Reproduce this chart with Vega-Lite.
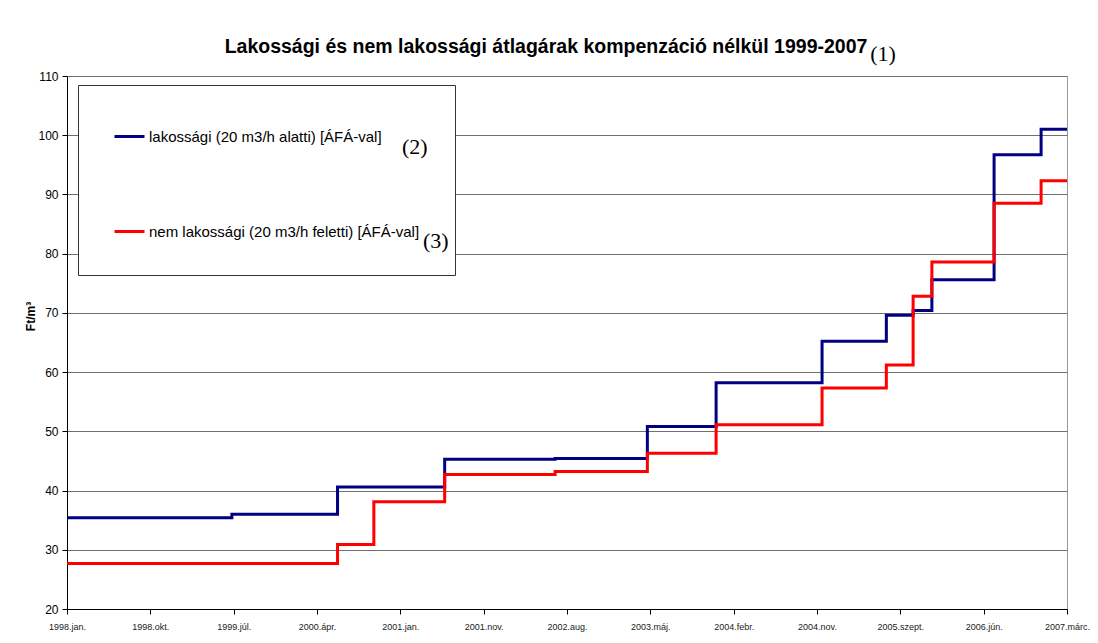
{
  "$schema": "https://vega.github.io/schema/vega-lite/v6.json",
  "width": 1000,
  "height": 533,
  "autosize": {"type": "none"},
  "padding": {"left": 67, "top": 76, "right": 31, "bottom": 34},
  "background": "white",
  "title": {
    "text": "Lakossági és nem lakossági átlagárak kompenzáció nélkül 1999-2007",
    "font": "Liberation Sans",
    "fontSize": 19.5,
    "fontWeight": "bold",
    "color": "black",
    "anchor": "middle",
    "dx": -21,
    "offset": -14
  },
  "datasets": {
    "prices": [
      {"date": "1998-01-01", "series": "lakossági (20 m3/h alatti) [ÁFÁ-val]", "value": 35.4},
      {"date": "1999-07-09", "series": "lakossági (20 m3/h alatti) [ÁFÁ-val]", "value": 36.0},
      {"date": "2000-06-28", "series": "lakossági (20 m3/h alatti) [ÁFÁ-val]", "value": 40.6},
      {"date": "2001-06-23", "series": "lakossági (20 m3/h alatti) [ÁFÁ-val]", "value": 45.3},
      {"date": "2002-06-29", "series": "lakossági (20 m3/h alatti) [ÁFÁ-val]", "value": 45.4},
      {"date": "2003-05-05", "series": "lakossági (20 m3/h alatti) [ÁFÁ-val]", "value": 50.8},
      {"date": "2003-12-22", "series": "lakossági (20 m3/h alatti) [ÁFÁ-val]", "value": 58.2},
      {"date": "2004-12-12", "series": "lakossági (20 m3/h alatti) [ÁFÁ-val]", "value": 65.2},
      {"date": "2005-07-16", "series": "lakossági (20 m3/h alatti) [ÁFÁ-val]", "value": 69.6},
      {"date": "2005-10-14", "series": "lakossági (20 m3/h alatti) [ÁFÁ-val]", "value": 70.4},
      {"date": "2005-12-16", "series": "lakossági (20 m3/h alatti) [ÁFÁ-val]", "value": 75.6},
      {"date": "2006-07-13", "series": "lakossági (20 m3/h alatti) [ÁFÁ-val]", "value": 96.7},
      {"date": "2006-12-18", "series": "lakossági (20 m3/h alatti) [ÁFÁ-val]", "value": 101.0},
      {"date": "2007-03-15", "series": "lakossági (20 m3/h alatti) [ÁFÁ-val]", "value": 101.0},
      {"date": "1998-01-01", "series": "nem lakossági (20 m3/h feletti) [ÁFÁ-val]", "value": 27.7},
      {"date": "1999-07-09", "series": "nem lakossági (20 m3/h feletti) [ÁFÁ-val]", "value": 27.7},
      {"date": "2000-06-28", "series": "nem lakossági (20 m3/h feletti) [ÁFÁ-val]", "value": 30.9},
      {"date": "2000-10-28", "series": "nem lakossági (20 m3/h feletti) [ÁFÁ-val]", "value": 38.1},
      {"date": "2001-06-23", "series": "nem lakossági (20 m3/h feletti) [ÁFÁ-val]", "value": 42.7},
      {"date": "2002-06-29", "series": "nem lakossági (20 m3/h feletti) [ÁFÁ-val]", "value": 43.2},
      {"date": "2003-05-05", "series": "nem lakossági (20 m3/h feletti) [ÁFÁ-val]", "value": 46.3},
      {"date": "2003-12-22", "series": "nem lakossági (20 m3/h feletti) [ÁFÁ-val]", "value": 51.1},
      {"date": "2004-12-12", "series": "nem lakossági (20 m3/h feletti) [ÁFÁ-val]", "value": 57.3},
      {"date": "2005-07-16", "series": "nem lakossági (20 m3/h feletti) [ÁFÁ-val]", "value": 61.2},
      {"date": "2005-10-14", "series": "nem lakossági (20 m3/h feletti) [ÁFÁ-val]", "value": 72.8},
      {"date": "2005-12-16", "series": "nem lakossági (20 m3/h feletti) [ÁFÁ-val]", "value": 78.6},
      {"date": "2006-07-13", "series": "nem lakossági (20 m3/h feletti) [ÁFÁ-val]", "value": 88.5},
      {"date": "2006-12-18", "series": "nem lakossági (20 m3/h feletti) [ÁFÁ-val]", "value": 92.3},
      {"date": "2007-03-15", "series": "nem lakossági (20 m3/h feletti) [ÁFÁ-val]", "value": 92.3}
    ],
    "notes": [
      {"date": "2005-07-05", "value": 113.7, "label": "(1)"},
      {"date": "2001-03-15", "value": 98.0, "label": "(2)"},
      {"date": "2001-06-01", "value": 82.1, "label": "(3)"}
    ]
  },
  "config": {
    "view": {"stroke": "#999999", "strokeWidth": 1}
  },
  "encoding": {
    "x": {
      "field": "date",
      "type": "temporal",
      "scale": {
        "type": "utc",
        "domain": [
          {"year": 1998, "month": 1, "date": 1, "utc": true},
          {"year": 2007, "month": 3, "date": 15, "utc": true}
        ]
      },
      "axis": {
        "title": null,
        "grid": false,
        "values": [
          {"year": 1998, "month": 1, "date": 1, "utc": true},
          {"year": 1998, "month": 10, "date": 8, "utc": true},
          {"year": 1999, "month": 7, "date": 15, "utc": true},
          {"year": 2000, "month": 4, "date": 20, "utc": true},
          {"year": 2001, "month": 1, "date": 25, "utc": true},
          {"year": 2001, "month": 11, "date": 1, "utc": true},
          {"year": 2002, "month": 8, "date": 8, "utc": true},
          {"year": 2003, "month": 5, "date": 15, "utc": true},
          {"year": 2004, "month": 2, "date": 19, "utc": true},
          {"year": 2004, "month": 11, "date": 25, "utc": true},
          {"year": 2005, "month": 9, "date": 1, "utc": true},
          {"year": 2006, "month": 6, "date": 8, "utc": true},
          {"year": 2007, "month": 3, "date": 15, "utc": true}
        ],
        "labelExpr": "utcFormat(datum.value, '%Y') + '.' + ['jan.','febr.','márc.','ápr.','máj.','jún.','júl.','aug.','szept.','okt.','nov.','dec.'][utcmonth(datum.value)]",
        "labelFont": "Liberation Sans",
        "labelFontSize": 9,
        "labelColor": "#222222",
        "labelPadding": 8,
        "labelOverlap": false,
        "labelBound": false,
        "labelFlush": false,
        "domainColor": "black",
        "tickColor": "black",
        "tickSize": 5
      }
    },
    "y": {
      "field": "value",
      "type": "quantitative",
      "scale": {"domain": [20, 110], "nice": false, "zero": false},
      "axis": {
        "title": "Ft/m³",
        "titleFont": "Liberation Sans",
        "titleFontSize": 12,
        "titleFontWeight": "bold",
        "titleColor": "black",
        "titlePadding": 0,
        "titleY": 240,
        "values": [20, 30, 40, 50, 60, 70, 80, 90, 100, 110],
        "labelFont": "Liberation Sans",
        "labelFontSize": 12,
        "labelColor": "black",
        "labelPadding": 4,
        "domainColor": "black",
        "tickColor": "black",
        "tickSize": 5,
        "grid": true,
        "gridColor": "#707070",
        "gridWidth": 1
      }
    }
  },
  "layer": [
    {
      "data": {"name": "prices"},
      "mark": {"type": "line", "interpolate": "step-after", "strokeWidth": 3},
      "encoding": {
        "color": {
          "field": "series",
          "type": "nominal",
          "scale": {
            "domain": ["lakossági (20 m3/h alatti) [ÁFÁ-val]", "nem lakossági (20 m3/h feletti) [ÁFÁ-val]"],
            "range": ["#000080", "#FF0000"]
          },
          "legend": {
            "orient": "none",
            "legendX": 11,
            "legendY": 9,
            "title": null,
            "direction": "vertical",
            "symbolType": "stroke",
            "symbolSize": 900,
            "symbolStrokeWidth": 3,
            "labelFont": "Liberation Sans",
            "labelFontSize": 15,
            "labelColor": "black",
            "labelOffset": 3,
            "labelLimit": 400,
            "padding": 35,
            "rowPadding": 70,
            "fillColor": "white",
            "strokeColor": "#333333"
          }
        }
      }
    },
    {
      "data": {"name": "notes"},
      "transform": [{"filter": "datum.label == '(1)'"}],
      "mark": {"type": "text", "font": "Liberation Serif", "fontSize": 22, "color": "black", "align": "center", "baseline": "middle"},
      "encoding": {
        "text": {"field": "label", "type": "nominal"},
        "opacity": {
          "field": "label",
          "type": "nominal",
          "scale": {"domain": ["(1)", "(2)", "(3)"], "range": [1, 1, 1]},
          "legend": {
            "orient": "none",
            "legendX": 313,
            "legendY": 60,
            "title": null,
            "values": ["(2)"],
            "symbolSize": 0,
            "symbolOpacity": 0,
            "symbolStrokeWidth": 0,
            "symbolStrokeColor": "transparent",
            "symbolFillColor": "transparent",
            "labelFont": "Liberation Serif",
            "labelFontSize": 22,
            "labelColor": "black",
            "labelOffset": 0,
            "labelLimit": 0,
            "padding": 0,
            "zindex": 1
          }
        },
        "size": {
          "field": "label",
          "type": "nominal",
          "scale": {"domain": ["(3)", "(2)", "(1)"], "range": [22, 22, 22]},
          "legend": {
            "orient": "none",
            "legendX": 334,
            "legendY": 154,
            "title": null,
            "values": ["(3)"],
            "symbolOpacity": 0,
            "symbolStrokeWidth": 0,
            "symbolStrokeColor": "transparent",
            "symbolFillColor": "transparent",
            "labelFont": "Liberation Serif",
            "labelFontSize": 22,
            "labelColor": "black",
            "labelOffset": 0,
            "labelLimit": 0,
            "padding": 0,
            "zindex": 1
          }
        }
      }
    }
  ]
}
